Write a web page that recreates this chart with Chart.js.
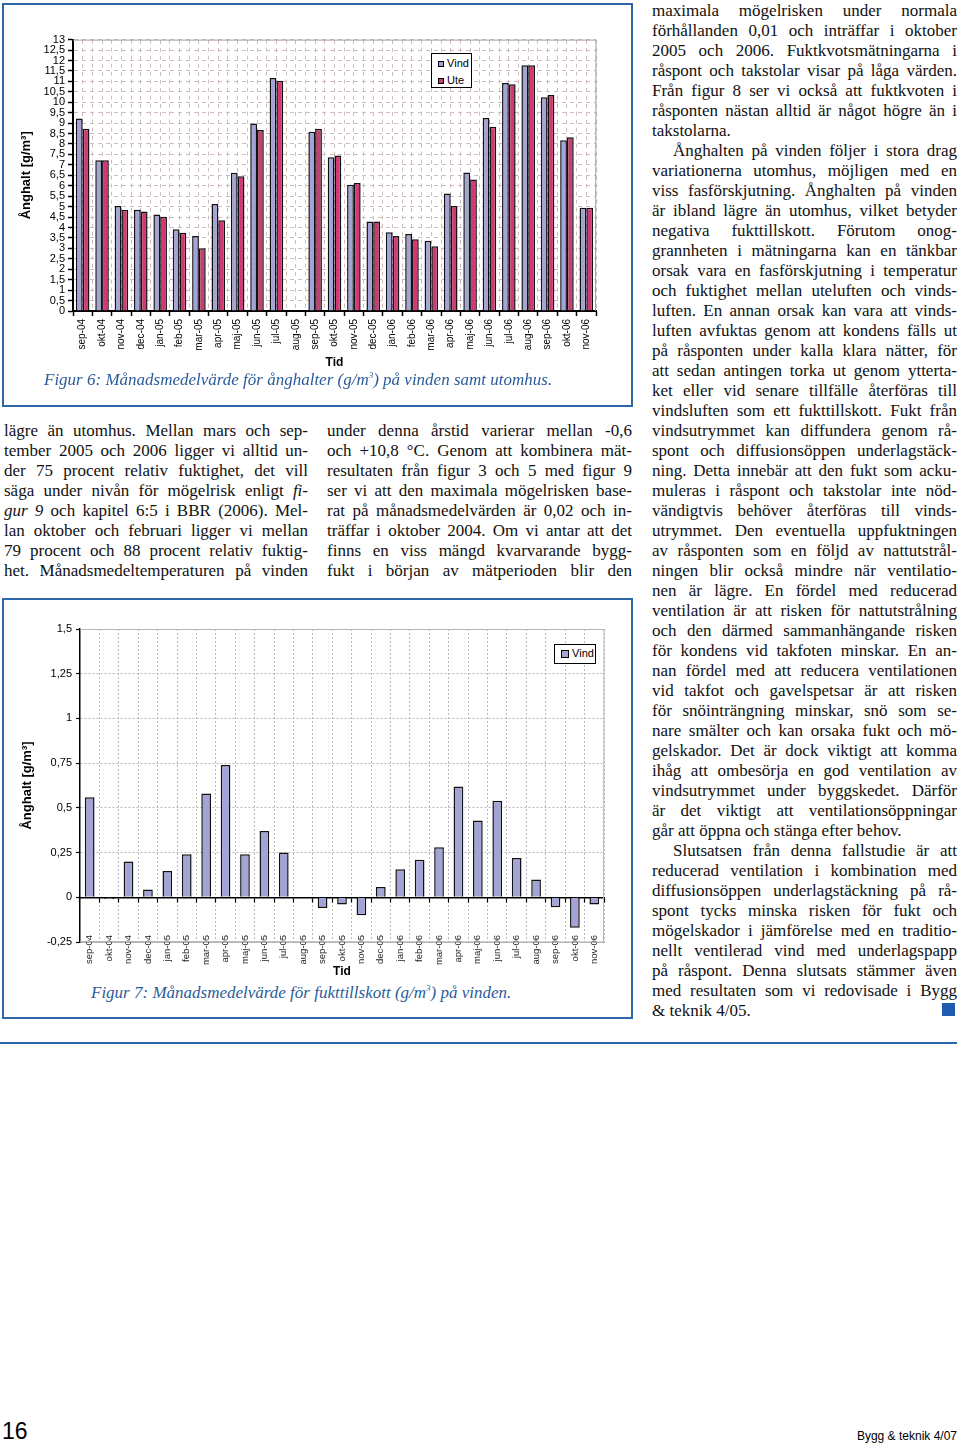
<!DOCTYPE html>
<html>
<head>
<meta charset="utf-8">
<title>Bygg & teknik 4/07 - sida 16</title>
<script src="https://cdn.jsdelivr.net/npm/chart.js"></script>
<style>
    body { margin: 0; background: #fff; }
    #page { position: relative; width: 960px; height: 1443px; overflow: hidden; }
    .box { position: absolute; border: 2px solid #2e67a8; box-sizing: border-box; }
    canvas { position: absolute; }
    .cap { position: absolute; font-family: 'Liberation Serif', 'Times New Roman', serif; font-style: italic;
           font-size: 17px; color: #2b5c99; white-space: nowrap; }
    .cap sup { font-size: 9px; }
    .col { position: absolute; font-family: 'Liberation Serif', 'Times New Roman', serif; font-size: 17px;
           line-height: 20px; color: #111; }
    .col div { text-align: justify; text-align-last: justify; white-space: nowrap; }
    .col div.e { text-align-last: left; }
    .col div.i { text-indent: 21px; }
    .legend { position: absolute; background: #fff; font-family: 'Liberation Sans', Arial, sans-serif;
              font-size: 11px; color: #000; box-sizing: border-box; }
    .legend span.m { display: inline-block; border: 1px solid #000; box-sizing: border-box; vertical-align: middle; }
    .rule { position: absolute; left: 0; top: 1042px; width: 957px; height: 2px; background: #2e67a8; }
    .foot { position: absolute; font-family: 'Liberation Sans Narrow', 'Liberation Sans', Arial, sans-serif; }
</style>
</head>
<body>
<div id="page">
    <div class="box" style="left:2px; top:3px; width:631px; height:404px;"></div>
    <canvas id="anghaltChart" width="600" height="342" style="left:8px; top:30px;"></canvas>
    <div class="legend" style="left:431px; top:53px; width:41px; height:35px; border:1.5px solid #000;">
        <div style="position:absolute; left:6px; top:3px;"><span class="m" style="width:6px;height:6px;background:#a3a3d6;"></span> Vind</div>
        <div style="position:absolute; left:6px; top:20px;"><span class="m" style="width:6px;height:6px;background:#cf3a74;"></span> Ute</div>
    </div>
    <div class="cap" style="left:44px; top:370px;">Figur 6: Månadsmedelvärde för ånghalter (g/m<sup>3</sup>) på vinden samt utomhus.</div>

    <div class="col" style="left:4px; top:421px; width:304px;">
        <div>lägre än utomhus. Mellan mars och sep-</div>
        <div>tember 2005 och 2006 ligger vi alltid un-</div>
        <div>der 75 procent relativ fuktighet, det vill</div>
        <div>säga under nivån för mögelrisk enligt <i>fi-</i></div>
        <div><i>gur 9</i> och kapitel 6:5 i BBR (2006). Mel-</div>
        <div>lan oktober och februari ligger vi mellan</div>
        <div>79 procent och 88 procent relativ fuktig-</div>
        <div>het. Månadsmedeltemperaturen på vinden</div>
    </div>
    <div class="col" style="left:327px; top:421px; width:305px;">
        <div>under denna årstid varierar mellan -0,6</div>
        <div>och +10,8 °C. Genom att kombinera mät-</div>
        <div>resultaten från figur 3 och 5 med figur 9</div>
        <div>ser vi att den maximala mögelrisken base-</div>
        <div>rat på månadsmedelvärden är 0,02 och in-</div>
        <div>träffar i oktober 2004. Om vi antar att det</div>
        <div>finns en viss mängd kvarvarande bygg-</div>
        <div>fukt i början av mätperioden blir den</div>
    </div>

    <div class="box" style="left:2px; top:598px; width:631px; height:421px;"></div>
    <canvas id="fuktChart" width="610" height="368" style="left:8px; top:612px;"></canvas>
    <div class="legend" style="left:554px; top:644px; width:42px; height:20px; border:1px solid #000;">
        <div style="position:absolute; left:6px; top:2px;"><span class="m" style="width:8px;height:8px;background:#a3a3d6;"></span> Vind</div>
    </div>
    <div class="cap" style="left:91px; top:983px;">Figur 7: Månadsmedelvärde för fukttillskott (g/m<sup>3</sup>) på vinden.</div>

    <div class="col" style="left:652px; top:1px; width:305px;">
        <div>maximala mögelrisken under normala</div>
        <div>förhållanden 0,01 och inträffar i oktober</div>
        <div>2005 och 2006. Fuktkvotsmätningarna i</div>
        <div>råspont och takstolar visar på låga värden.</div>
        <div>Från figur 8 ser vi också att fuktkvoten i</div>
        <div>råsponten nästan alltid är något högre än i</div>
        <div class="e">takstolarna.</div>
        <div class="i">Ånghalten på vinden följer i stora drag</div>
        <div>variationerna utomhus, möjligen med en</div>
        <div>viss fasförskjutning. Ånghalten på vinden</div>
        <div>är ibland lägre än utomhus, vilket betyder</div>
        <div>negativa fukttillskott. Förutom onog-</div>
        <div>grannheten i mätningarna kan en tänkbar</div>
        <div>orsak vara en fasförskjutning i temperatur</div>
        <div>och fuktighet mellan uteluften och vinds-</div>
        <div>luften. En annan orsak kan vara att vinds-</div>
        <div>luften avfuktas genom att kondens fälls ut</div>
        <div>på råsponten under kalla klara nätter, för</div>
        <div>att sedan antingen torka ut genom ytterta-</div>
        <div>ket eller vid senare tillfälle återföras till</div>
        <div>vindsluften som ett fukttillskott. Fukt från</div>
        <div>vindsutrymmet kan diffundera genom rå-</div>
        <div>spont och diffusionsöppen underlagstäck-</div>
        <div>ning. Detta innebär att den fukt som acku-</div>
        <div>muleras i råspont och takstolar inte nöd-</div>
        <div>vändigtvis behöver återföras till vinds-</div>
        <div>utrymmet. Den eventuella uppfuktningen</div>
        <div>av råsponten som en följd av nattutstrål-</div>
        <div>ningen blir också mindre när ventilatio-</div>
        <div>nen är lägre. En fördel med reducerad</div>
        <div>ventilation är att risken för nattutstrålning</div>
        <div>och den därmed sammanhängande risken</div>
        <div>för kondens vid takfoten minskar. En an-</div>
        <div>nan fördel med att reducera ventilationen</div>
        <div>vid takfot och gavelspetsar är att risken</div>
        <div>för snöinträngning minskar, snö som se-</div>
        <div>nare smälter och kan orsaka fukt och mö-</div>
        <div>gelskador. Det är dock viktigt att komma</div>
        <div>ihåg att ombesörja en god ventilation av</div>
        <div>vindsutrymmet under byggskedet. Därför</div>
        <div>är det viktigt att ventilationsöppningar</div>
        <div class="e">går att öppna och stänga efter behov.</div>
        <div class="i">Slutsatsen från denna fallstudie är att</div>
        <div>reducerad ventilation i kombination med</div>
        <div>diffusionsöppen underlagstäckning på rå-</div>
        <div>spont tycks minska risken för fukt och</div>
        <div>mögelskador i jämförelse med en traditio-</div>
        <div>nellt ventilerad vind med underlagspapp</div>
        <div>på råspont. Denna slutsats stämmer även</div>
        <div>med resultaten som vi redovisade i Bygg</div>
        <div class="e">&amp; teknik 4/05.</div>
    </div>
    <div style="position:absolute; left:942px; top:1003px; width:13px; height:13px; background:#1f5cb0;"></div>

    <div class="rule"></div>
    <div class="foot" style="left:2px; top:1418px; font-size:23px;">16</div>
    <div class="foot" style="right:3px; top:1429px; font-size:12px;">Bygg &amp; teknik 4/07</div>
</div>

<script>
    // Månader (x-axel)
    var manader = ['sep-04', 'okt-04', 'nov-04', 'dec-04', 'jan-05', 'feb-05', 'mar-05', 'apr-05', 'maj-05',
                   'jun-05', 'jul-05', 'aug-05', 'sep-05', 'okt-05', 'nov-05', 'dec-05', 'jan-06', 'feb-06',
                   'mar-06', 'apr-06', 'maj-06', 'jun-06', 'jul-06', 'aug-06', 'sep-06', 'okt-06', 'nov-06'];

    // Figur 6: ånghalt [g/m3], vind och ute
    var anghaltVind = [9.22, 7.22, 5.03, 4.85, 4.62, 3.92, 3.59, 5.12, 6.62, 8.98, 11.16, null, 8.59,
                       7.37, 6.05, 4.29, 3.77, 3.69, 3.36, 5.63, 6.63, 9.25, 10.92, 11.77, 10.24, 8.18, 4.95];
    var anghaltUte = [8.73, 7.22, 4.85, 4.77, 4.51, 3.75, 3.01, 4.35, 6.46, 8.67, 11.03, null, 8.73,
                      7.45, 6.13, 4.29, 3.59, 3.44, 3.10, 5.03, 6.30, 8.82, 10.86, 11.77, 10.35, 8.32, 4.95];

    // Figur 7: fukttillskott [g/m3] på vinden
    var fukttillskott = [0.56, -0.01, 0.20, 0.043, 0.147, 0.24, 0.58, 0.74, 0.24, 0.37, 0.25, null, -0.06,
                         -0.04, -0.10, 0.058, 0.157, 0.21, 0.28, 0.62, 0.43, 0.54, 0.22, 0.10, -0.056, -0.17, -0.04];

    // Axelgränser
    var anghaltMin = 0, anghaltMax = 13, anghaltSteg = 0.5;
    var fuktMin = -0.25, fuktMax = 1.5, fuktSteg = 0.25;

    var fargVind = '#a3a3d6';
    var fargUte = '#cf3a74';

    Chart.defaults.font.family = "'Liberation Sans', Arial, sans-serif";
    Chart.defaults.color = '#000';

    function komma(v) {
        return String(Math.round(v * 100) / 100).replace('.', ',');
    }

    // ram runt ritytan
    var ramPlugin = {
        id: 'ram',
        beforeDatasetsDraw: function (chart, args, opts) {
            var a = chart.chartArea, c = chart.ctx;
            c.save();
            c.strokeStyle = opts.color;
            c.lineWidth = 1;
            c.beginPath();
            c.moveTo(a.left, a.top + 0.5);
            c.lineTo(a.right, a.top + 0.5);
            c.lineTo(a.right - 0.5, a.bottom);
            if (opts.bottom) c.lineTo(a.left, a.bottom - 0.5);
            c.stroke();
            c.restore();
        }
    };

    document.addEventListener('DOMContentLoaded', function () {
        var ctx1 = document.getElementById('anghaltChart').getContext('2d');
        new Chart(ctx1, {
            type: 'bar',
            plugins: [ramPlugin],
            data: {
                labels: manader,
                datasets: [
                    { label: 'Vind', data: anghaltVind, backgroundColor: fargVind, borderColor: '#111', borderWidth: 1.5,
                      barPercentage: 1.0, categoryPercentage: 0.7, xAxisID: 'x' },
                    { label: 'Ute', data: anghaltUte, backgroundColor: fargUte, borderColor: '#111', borderWidth: 1.5,
                      barPercentage: 1.0, categoryPercentage: 0.7, xAxisID: 'x' }
                ]
            },
            options: {
                responsive: false,
                animation: false,
                layout: { padding: { top: 5, right: 12, left: 0, bottom: 0 } },
                plugins: {
                    legend: { display: false },
                    tooltip: { enabled: false },
                    ram: { color: '#a89a9a', bottom: false }
                },
                scales: {
                    x: {
                        type: 'category',
                        offset: true,
                        grid: { offset: true, color: '#cdbcbc', tickColor: '#000', tickLength: 5, tickWidth: 1.5 },
                        border: { color: '#000', width: 2, dash: [4, 4] },
                        ticks: { autoSkip: false, minRotation: 90, maxRotation: 90, padding: 3, font: { size: 10 } },
                        title: { display: true, text: 'Tid', font: { size: 12, weight: 'bold' }, padding: { top: 0, bottom: 2 } },
                        afterFit: function (s) { s.height = 61; }
                    },
                    x2: {
                        type: 'category',
                        position: 'top',
                        offset: true,
                        labels: manader,
                        grid: { offset: false, color: '#cdbcbc', drawTicks: false },
                        border: { display: false, dash: [4, 4] },
                        ticks: { display: false },
                        afterFit: function (s) { s.height = 0; }
                    },
                    y: {
                        min: anghaltMin,
                        max: anghaltMax,
                        grid: { color: '#cdbcbc', tickColor: '#000', tickLength: 5, tickWidth: 1.5 },
                        border: { color: '#000', width: 2, dash: [4, 4] },
                        ticks: { stepSize: anghaltSteg, autoSkip: false, padding: 3, font: { size: 11 },
                                 callback: function (v) { return komma(v); } },
                        title: { display: true, text: 'Ånghalt [g/m³]', font: { size: 13, weight: 'bold' }, padding: { top: 11, bottom: 0 } },
                        afterFit: function (s) { s.width = 65; }
                    }
                }
            }
        });

        var ctx2 = document.getElementById('fuktChart').getContext('2d');
        new Chart(ctx2, {
            type: 'bar',
            plugins: [ramPlugin],
            data: {
                labels: manader,
                datasets: [
                    { label: 'Vind', data: fukttillskott, backgroundColor: fargVind, borderColor: '#111', borderWidth: 1.5,
                      barPercentage: 0.5, categoryPercentage: 1.0, xAxisID: 'x' }
                ]
            },
            options: {
                responsive: false,
                animation: false,
                layout: { padding: { top: 17, right: 14, left: 0, bottom: 0 } },
                plugins: {
                    legend: { display: false },
                    tooltip: { enabled: false },
                    ram: { color: '#b5b5b5', bottom: true }
                },
                scales: {
                    x: {
                        type: 'category',
                        offset: true,
                        grid: { offset: true, color: '#b9b9b9', drawTicks: false },
                        border: { color: '#b5b5b5', width: 1, dash: [2, 2] },
                        ticks: { display: false },
                        title: { display: true, text: 'Tid', font: { size: 12, weight: 'bold' }, padding: { top: 0, bottom: 1 } },
                        afterFit: function (s) { s.height = 38; }
                    },
                    // etiketter vid nedre kanten (ingen klippning för axlar i ritytan)
                    xEtikett: {
                        type: 'category',
                        position: { y: fuktMin },
                        offset: true,
                        labels: manader,
                        grid: { display: false, drawOnChartArea: false, drawTicks: false },
                        border: { display: false },
                        ticks: { autoSkip: false, minRotation: 90, maxRotation: 90, padding: -7, color: '#222', font: { size: 9.5 } }
                    },
                    xNoll: {
                        type: 'category',
                        position: { y: 0 },
                        offset: true,
                        labels: manader,
                        grid: { offset: true, drawOnChartArea: false, drawTicks: true, tickLength: 4, tickColor: '#000', tickWidth: 1.2 },
                        border: { color: '#000', width: 1.5 },
                        ticks: { display: false }
                    },
                    y: {
                        min: fuktMin,
                        max: fuktMax,
                        grid: { color: '#b9b9b9', tickColor: '#000', tickLength: 4, tickWidth: 1.2 },
                        border: { color: '#000', width: 1.5, dash: [2, 2] },
                        ticks: { stepSize: fuktSteg, autoSkip: false, padding: 4, font: { size: 11 },
                                 callback: function (v) { return komma(v); } },
                        title: { display: true, text: 'Ånghalt [g/m³]', font: { size: 13, weight: 'bold' }, padding: { top: 12, bottom: 0 } },
                        afterFit: function (s) { s.width = 72; }
                    }
                }
            }
        });
    });
</script>
</body>
</html>
